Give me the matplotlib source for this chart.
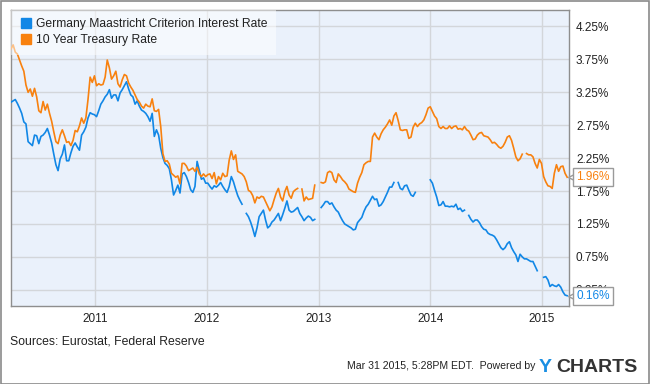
import numpy as np
import pandas as pd
import matplotlib
matplotlib.use("Agg")
import matplotlib.pyplot as plt
import matplotlib.dates as mdates
from matplotlib.lines import Line2D
from matplotlib.patches import Rectangle

nan = float('nan')

# weekly observations, 2010-03-31 .. 2015-03-25
dates = pd.date_range('2010-03-31', periods=261, freq='7D')

germany = [
    3.10, 3.12, 3.14, 3.08, 3.01, 2.93, 2.80, 2.77, 2.50, 2.47,
    2.44, 2.60, 2.59, 2.47, 2.58, 2.60, 2.64, 2.70, 2.60, 2.48,
    2.31, 2.15, 2.06, 2.24, 2.31, 2.45, 2.21, 2.21, 2.33, 2.43,
    2.48, 2.42, 2.37, 2.60, 2.65, 2.72, 2.86, 2.94, 2.92, 2.91,
    2.88, 2.97, 3.07, 3.12, 3.18, 3.22, 3.29, 3.16, 3.21, 3.21,
    3.12, 3.24, 3.29, 3.35, 3.41, 3.30, 3.21, 3.18, 3.07, 3.12,
    3.04, 2.98, 2.96, 2.93, 2.88, 2.81, 2.93, 2.58, 2.68, 2.60,
    2.40, 2.26, 2.17, 2.14, 2.09, 1.92, 1.69, 1.76, 1.84, 1.72,
    2.01, 2.03, 1.97, 1.88, 1.77, 1.73, 1.82, 2.20, 2.07, 1.93,
    1.95, 1.87, 1.87, 1.82, 1.78, 1.83, 1.81, 1.84, 1.88, 1.82,
    1.77, 1.73, 1.82, 1.97, 1.89, 1.78, 1.68, 1.61, 1.55, nan,
    1.41, 1.36, 1.28, 1.18, 1.06, 1.19, 1.36, 1.41, 1.46, 1.31,
    1.19, 1.22, 1.28, 1.31, 1.36, 1.41, 1.30, 1.39, 1.49, 1.60,
    1.46, 1.43, 1.44, 1.47, 1.50, 1.41, 1.36, 1.30, 1.34, 1.37,
    1.35, 1.30, 1.32, nan, nan, 1.50, 1.54, 1.59, 1.59, 1.55,
    1.57, 1.51, 1.46, 1.43, 1.36, 1.30, 1.25, 1.23, 1.21, 1.19,
    1.16, 1.17, 1.27, 1.31, 1.35, 1.44, 1.51, 1.55, 1.61, 1.67,
    1.62, 1.63, 1.52, 1.54, 1.59, 1.66, 1.73, 1.81, 1.81, 1.88,
    nan, 1.88, 1.79, 1.77, 1.83, 1.84, 1.76, 1.69, 1.67, 1.73,
    nan, nan, nan, nan, nan, nan, 1.92, 1.87, 1.76, 1.66,
    1.53, 1.54, 1.59, 1.52, 1.52, 1.51, 1.52, 1.51, 1.55, 1.47,
    1.49, 1.44, 1.46, nan, 1.38, 1.32, 1.28, 1.31, 1.31, 1.27,
    1.21, 1.17, 1.16, 1.11, 1.09, 1.08, 1.06, 1.01, 0.95, 0.89,
    0.86, 0.89, 0.95, 0.98, 0.89, 0.83, 0.78, 0.68, 0.79, 0.75,
    0.72, 0.72, 0.70, 0.68, 0.68, 0.61, 0.54, nan, nan, 0.44,
    0.45, 0.40, 0.30, 0.33, 0.31, 0.30, 0.33, 0.29, 0.22, 0.17,
    0.16,
]

treasury = [
    3.91, 3.97, 3.86, 3.83, 3.74, 3.65, 3.57, 3.36, 3.25, 3.30,
    3.19, 3.31, 3.18, 2.97, 2.94, 3.11, 2.98, 3.07, 2.93, 2.81,
    2.65, 2.50, 2.47, 2.60, 2.68, 2.59, 2.49, 2.50, 2.44, 2.52,
    2.67, 2.65, 2.74, 2.86, 2.78, 2.86, 3.14, 3.48, 3.40, 3.50,
    3.35, 3.38, 3.36, 3.37, 3.48, 3.74, 3.62, 3.45, 3.50, 3.57,
    3.38, 3.33, 3.44, 3.52, 3.50, 3.39, 3.33, 3.28, 3.21, 3.14,
    3.10, 3.04, 3.01, 3.07, 3.04, 3.03, 3.15, 2.97, 2.96, 2.99,
    2.73, 2.32, 2.20, 2.21, 2.16, 2.02, 1.99, 1.96, 1.98, 1.86,
    2.17, 2.17, 2.13, 2.06, 2.08, 2.10, 2.05, 2.11, 2.01, 1.97,
    2.01, 1.97, 2.00, 2.01, 1.94, 2.03, 1.86, 1.97, 1.92, 2.02,
    1.97, 1.98, 2.22, 2.36, 2.23, 2.30, 2.05, 2.03, 2.01, 1.97,
    1.89, 1.76, 1.74, 1.68, 1.57, 1.66, 1.64, 1.67, 1.66, 1.59,
    1.52, 1.45, 1.51, 1.62, 1.72, 1.79, 1.66, 1.60, 1.74, 1.82,
    1.69, 1.64, 1.74, 1.77, 1.79, nan, 1.78, 1.60, 1.66, 1.62,
    1.63, 1.64, 1.84, nan, nan, 1.88, 1.87, 1.89, 2.03, 2.05,
    2.03, 1.92, 1.88, 2.01, 1.97, 1.92, 1.89, 1.85, 1.78, 1.76,
    1.74, 1.73, 1.87, 1.96, 2.03, 2.15, 2.18, 2.20, 2.20, 2.57,
    2.63, 2.57, 2.53, 2.62, 2.68, 2.72, 2.77, 2.83, 2.75, 2.89,
    2.94, 2.82, 2.68, 2.67, 2.68, 2.68, 2.55, 2.57, 2.72, 2.78,
    2.73, 2.77, 2.79, 2.83, 2.91, 3.01, 3.03, 2.96, 2.89, 2.85,
    2.73, 2.70, 2.73, 2.70, 2.70, 2.74, 2.70, 2.73, 2.74, 2.69,
    2.70, 2.68, 2.73, 2.68, 2.66, 2.60, 2.53, 2.54, 2.60, 2.63,
    2.64, 2.59, 2.58, 2.57, 2.53, 2.48, 2.49, 2.46, 2.42, 2.40,
    2.43, 2.49, 2.57, 2.59, 2.52, 2.40, 2.27, 2.21, 2.24, 2.31,
    nan, 2.32, 2.30, 2.30, 2.27, 2.17, 2.10, 2.23, 2.17, 1.97,
    1.89, 1.83, 1.82, 1.79, 2.02, 2.15, 2.05, 2.12, 2.13, 2.02,
    1.96,
]

y_ticks = [0.25, 0.75, 1.25, 1.75, 2.25, 2.75, 3.25, 3.75, 4.25]
series_names = ['Germany Maastricht Criterion Interest Rate', '10 Year Treasury Rate']

BLUE = '#1187e6'
ORANGE = '#f8810f'

plt.rcParams['font.family'] = 'Liberation Sans'

fig = plt.figure(figsize=(6.5, 3.84), dpi=100, facecolor='white')
ax = fig.add_axes([11/650, 78.4/384, 558/650, 295.6/384])
ax.set_facecolor('#eaf1fb')

ax.plot(dates, germany, color=BLUE, lw=1.2, zorder=3)
ax.plot(dates, treasury, color=ORANGE, lw=1.2, zorder=4)

ax.set_xlim(pd.Timestamp('2010-03-31'), pd.Timestamp('2015-03-31'))
ax.set_ylim(0.01, 4.5)

ax.xaxis.set_major_locator(mdates.YearLocator())
ax.xaxis.set_major_formatter(mdates.DateFormatter('%Y'))
ax.set_yticks(y_ticks)
ax.set_yticklabels(['%.2f%%' % v for v in y_ticks])
ax.yaxis.tick_right()
ax.tick_params(axis='both', length=0, labelsize=8.5, colors='#222222')
ax.tick_params(axis='x', pad=5)
ax.tick_params(axis='y', pad=5)
ax.grid(True, color='#d3d6da', lw=1)
ax.set_axisbelow(True)
for s in ax.spines.values():
    s.set_color('#8e8e8e')
    s.set_linewidth(1)

handles = [Line2D([], [], ls='none', marker='s', ms=7, color=BLUE),
           Line2D([], [], ls='none', marker='s', ms=7, color=ORANGE)]
leg = ax.legend(handles, series_names, loc='upper left', bbox_to_anchor=(0, 1),
                borderaxespad=0, frameon=True, fancybox=False, fontsize=8.7,
                borderpad=0.7, handlelength=1.1, handletextpad=0.3, labelspacing=0.32)
leg.get_frame().set_facecolor('white')
leg.get_frame().set_alpha(0.5)
leg.get_frame().set_edgecolor('none')
leg.set_zorder(5)
for t in leg.get_texts():
    t.set_color('#222222')

# last-value callouts on the right axis
for val, col in [(treasury[-1], ORANGE), (germany[-1], BLUE)]:
    ax.plot([1.007], [val], transform=ax.get_yaxis_transform(), marker='<', ms=7,
            mfc='white', mec='#9a9a9a', mew=1, clip_on=False, zorder=9)
    ax.text(1.013, val, '%.2f%%' % val, transform=ax.get_yaxis_transform(),
            color=col, fontsize=8.5, va='center', ha='left', zorder=10,
            bbox=dict(boxstyle='square,pad=0.25', fc='white', ec='#9a9a9a', lw=1))

fig.text(10/650, 1 - 342/384, 'Sources: Eurostat, Federal Reserve', fontsize=8.8,
         color='#222222', va='center', ha='left')
fig.text(535/650, 1 - 366/384, 'Mar 31 2015, 5:28PM EDT.  Powered by', fontsize=7.6,
         color='#222222', va='center', ha='right')
fig.text(539/650, 1 - 367/384, 'Y', fontsize=14, fontweight='bold',
         color='#1a8fe3', va='center', ha='left')
fig.text(556/650, 1 - 367/384, 'CHARTS', fontsize=14, fontweight='bold',
         color='#333333', va='center', ha='left')

fig.patches.append(Rectangle((0.5/650, 0.5/384), 648.5/650, 382.5/384, transform=fig.transFigure,
                             fill=False, ec='#8a8a8a', lw=1.2))

fig.savefig('out.png', dpi=100, facecolor='white')
